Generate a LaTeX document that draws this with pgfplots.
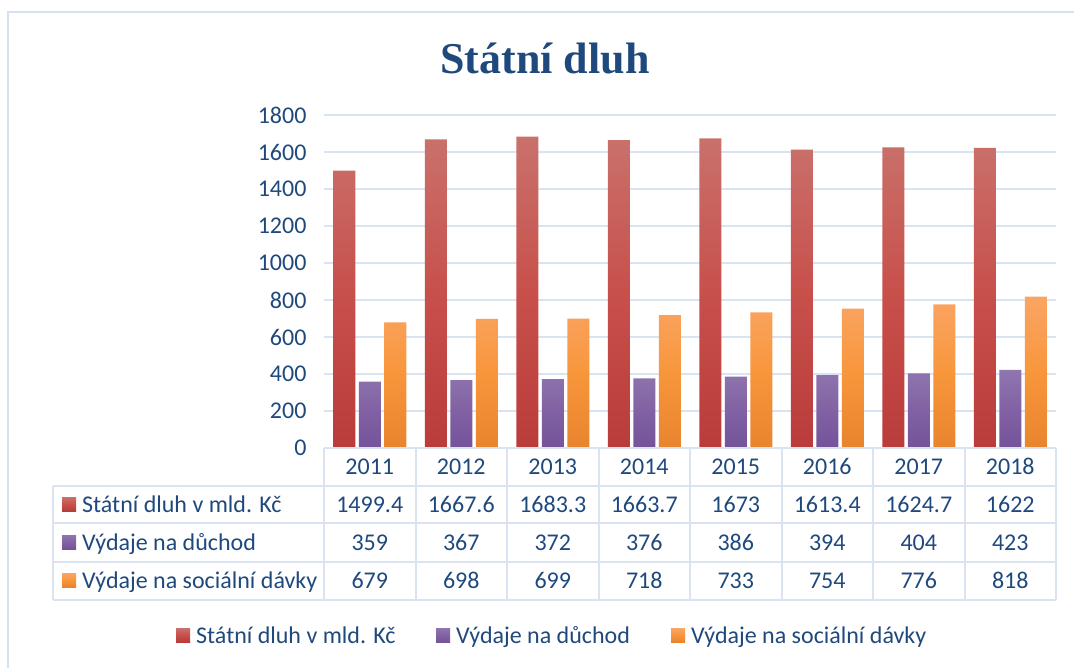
\documentclass[border=0pt]{standalone}
\usepackage{pgfplots}
\pgfplotsset{compat=1.18}
\usepackage{fontspec}
\setmainfont{Carlito}
\newfontfamily\titlefont{Liberation Serif}
\definecolor{txt}{HTML}{1F497D}
\definecolor{gridc}{HTML}{D9E3F1}
\definecolor{framec}{HTML}{D5E1F0}
\definecolor{rT}{HTML}{C9716C}
\definecolor{rM}{HTML}{C8504B}
\definecolor{rB}{HTML}{B93C3A}
\definecolor{pT}{HTML}{8F76AF}
\definecolor{pM}{HTML}{8262A4}
\definecolor{pB}{HTML}{74539A}
\definecolor{oT}{HTML}{FAA564}
\definecolor{oM}{HTML}{F8963C}
\definecolor{oB}{HTML}{E8842D}
\newcommand\fs{\fontsize{24}{28}\selectfont}
\begin{document}
\begin{tikzpicture}
\useasboundingbox (0pt,0pt) rectangle (1074pt,-667pt);
\draw[framec, line width=1.5pt] (1090pt,-12pt) -- (8pt,-12pt) -- (8pt,-690pt);
\node[font=\titlefont\bfseries\fontsize{44}{50}\selectfont, text=txt, anchor=base] at (545pt,-73pt) {Státní dluh};
\begin{axis}[
  at={(324pt,-448pt)}, anchor=south west,
  scale only axis, width=732pt, height=333pt,
  xmin=-0.5, xmax=7.5, ymin=0, ymax=1800,
  ybar=3.5pt, bar width=22pt,
  xtick=\empty,
  ytick={0,200,...,1800},
  ymajorgrids, grid style={gridc, line width=2pt},
  axis line style={draw=none},
  major tick length=0pt,
  yticklabel style={font=\fs, text=txt, /pgf/number format/1000 sep={}, xshift=-14pt},
  /pgf/number format/assume math mode=true,
  clip=false,
]
\addplot[draw=none, top color=rT, bottom color=rB, middle color=rM] coordinates {(0,1499.4) (1,1667.6) (2,1683.3) (3,1663.7) (4,1673) (5,1613.4) (6,1624.7) (7,1622)};
\addplot[draw=none, top color=pT, bottom color=pB, middle color=pM] coordinates {(0,359) (1,367) (2,372) (3,376) (4,386) (5,394) (6,404) (7,423)};
\addplot[draw=none, top color=oT, bottom color=oB, middle color=oM] coordinates {(0,679) (1,698) (2,699) (3,718) (4,733) (5,754) (6,776) (7,818)};
\end{axis}
% table grid
\begin{scope}[gridc, line width=2pt]
\draw (324pt,-448pt) -- (1056pt,-448pt);
\foreach \y in {486,523,562,600} \draw (53pt,-\y pt) -- (1056pt,-\y pt);
\draw (53pt,-486pt) -- (53pt,-600pt);
\foreach \k in {0,...,8} \draw ({324pt+91.5pt*\k},-448pt) -- ({324pt+91.5pt*\k},-600pt);
\end{scope}
\foreach \v [count=\i from 0] in {2011,2012,2013,2014,2015,2016,2017,2018}
  \node[font=\fs, text=txt, anchor=base] at ({324pt+91.5pt*(\i+0.5)},-474pt) {\v};
\foreach \v [count=\i from 0] in {1499.4,1667.6,1683.3,1663.7,1673,1613.4,1624.7,1622}
  \node[font=\fs, text=txt, anchor=base] at ({324pt+91.5pt*(\i+0.5)},-512pt) {\v};
\foreach \v [count=\i from 0] in {359,367,372,376,386,394,404,423}
  \node[font=\fs, text=txt, anchor=base] at ({324pt+91.5pt*(\i+0.5)},-550pt) {\v};
\foreach \v [count=\i from 0] in {679,698,699,718,733,754,776,818}
  \node[font=\fs, text=txt, anchor=base] at ({324pt+91.5pt*(\i+0.5)},-588pt) {\v};
% row labels
\shade[top color=rT, bottom color=rB, middle color=rM] (62pt,-497pt) rectangle (76pt,-511pt);
\shade[top color=pT, bottom color=pB, middle color=pM] (62pt,-535pt) rectangle (76pt,-549pt);
\shade[top color=oT, bottom color=oB, middle color=oM] (62pt,-573pt) rectangle (76pt,-587pt);
\node[font=\fs, text=txt, anchor=base west, inner sep=0pt] at (82pt,-512pt) {Státní dluh v mld. Kč};
\node[font=\fs, text=txt, anchor=base west, inner sep=0pt] at (82pt,-550pt) {Výdaje na důchod};
\node[font=\fs, text=txt, anchor=base west, inner sep=0pt] at (82pt,-588pt) {Výdaje na sociální dávky};
% legend
\shade[top color=rT, bottom color=rB, middle color=rM] (176pt,-628pt) rectangle (190pt,-642pt);
\shade[top color=pT, bottom color=pB, middle color=pM] (436pt,-628pt) rectangle (450pt,-642pt);
\shade[top color=oT, bottom color=oB, middle color=oM] (671pt,-628pt) rectangle (685pt,-642pt);
\node[font=\fs, text=txt, anchor=base west, inner sep=0pt] at (196pt,-643pt) {Státní dluh v mld. Kč};
\node[font=\fs, text=txt, anchor=base west, inner sep=0pt] at (456pt,-643pt) {Výdaje na důchod};
\node[font=\fs, text=txt, anchor=base west, inner sep=0pt] at (691pt,-643pt) {Výdaje na sociální dávky};
\end{tikzpicture}
\end{document}
